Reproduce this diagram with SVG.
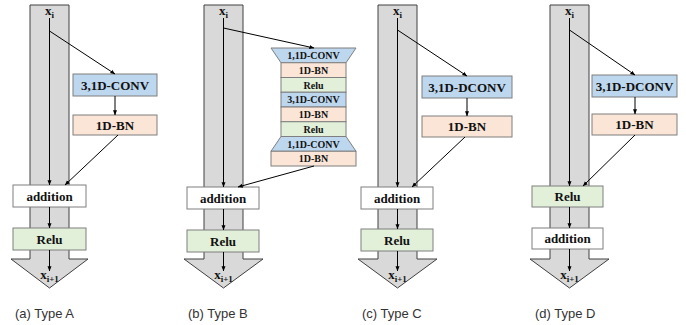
<svg xmlns="http://www.w3.org/2000/svg" width="686" height="325" viewBox="0 0 686 325">
<defs>
<marker id="ah" viewBox="0 0 8 8" refX="7.5" refY="4" markerWidth="5" markerHeight="5" orient="auto" markerUnits="userSpaceOnUse">
<path d="M0,0.8 L8,4 L0,7.2 Z" fill="#000"/>
</marker>
<style>
.shaft{fill:#d9d9d9;stroke:#404040;stroke-width:1}
.box{stroke:#7f7f7f;stroke-width:1}
.blue{fill:#bdd7ee}
.peach{fill:#fbe5d6}
.green{fill:#e2f0d9}
.white{fill:#ffffff}
.t{font-family:"Liberation Serif","Times New Roman",serif;font-weight:bold;font-size:13px;text-anchor:middle;fill:#111}
.ts{font-family:"Liberation Serif","Times New Roman",serif;font-weight:bold;font-size:10px;text-anchor:middle;fill:#111}
.x{font-family:"Liberation Serif","Times New Roman",serif;font-weight:bold;font-size:13px;text-anchor:middle;fill:#111}
.sub{font-size:9px}
.cap{font-family:"Liberation Sans",Arial,sans-serif;font-size:13px;fill:#333}
.c{stroke:#000;stroke-width:1;fill:none;marker-end:url(#ah)}
</style>
</defs>

<!-- Panel A -->
<g id="trunkA">
<path class="shaft" d="M30,5 L69,5 L69,259 L88,259 L49.5,288 L11,259 L30,259 Z"/>
<text class="x" x="49.5" y="15">x<tspan class="sub" dy="3">i</tspan></text>
<text class="x" x="49.5" y="279">x<tspan class="sub" dy="3">i+1</tspan></text>
</g>
<g id="convA"><rect class="box blue" x="73" y="74" width="84" height="22"/><text class="t" x="115" y="89.5">3,1D-CONV</text></g>
<g id="bnA"><rect class="box peach" x="73" y="115" width="84" height="20"/><text class="t" x="115" y="129.5">1D-BN</text></g>
<g id="addA"><rect class="box white" x="13" y="185" width="73" height="22"/><text class="t" x="49.5" y="200.5">addition</text></g>
<g id="reluA"><rect class="box green" x="13" y="228" width="73" height="22"/><text class="t" x="49.5" y="243.5">Relu</text></g>

<!-- Panel B -->
<g id="trunkB">
<path class="shaft" d="M204,5 L243,5 L243,259 L263,259 L223.5,288 L184,259 L204,259 Z"/>
<text class="x" x="223.5" y="15">x<tspan class="sub" dy="3">i</tspan></text>
<text class="x" x="223.5" y="279">x<tspan class="sub" dy="3">i+1</tspan></text>
</g>
<g id="stackB">
<path class="box blue" d="M271,48 L356,48 L346,62.75 L281,62.75 Z"/><text class="ts" x="313.5" y="59">1,1D-CONV</text>
<rect class="box peach" x="281" y="62.75" width="65" height="14.75"/><text class="ts" x="313.5" y="73.8">1D-BN</text>
<rect class="box green" x="281" y="77.5" width="65" height="14.75"/><text class="ts" x="313.5" y="88.5">Relu</text>
<rect class="box blue" x="281" y="92.25" width="65" height="14.75"/><text class="ts" x="313.5" y="103.3">3,1D-CONV</text>
<rect class="box peach" x="281" y="107" width="65" height="14.75"/><text class="ts" x="313.5" y="118">1D-BN</text>
<rect class="box green" x="281" y="121.75" width="65" height="14.75"/><text class="ts" x="313.5" y="132.8">Relu</text>
<path class="box blue" d="M281,136.5 L346,136.5 L356,151.25 L271,151.25 Z"/><text class="ts" x="313.5" y="147.5">1,1D-CONV</text>
<rect class="box peach" x="271" y="151.25" width="85" height="14.75"/><text class="ts" x="313.5" y="162.3">1D-BN</text>
</g>
<g id="addB"><rect class="box white" x="187" y="187" width="72" height="22"/><text class="t" x="223" y="202.5">addition</text></g>
<g id="reluB"><rect class="box green" x="187" y="230" width="72" height="22"/><text class="t" x="223" y="245.5">Relu</text></g>

<!-- Panel C -->
<g id="trunkC">
<path class="shaft" d="M378,5 L417,5 L417,259 L437,259 L397.5,288 L358,259 L378,259 Z"/>
<text class="x" x="397.5" y="15">x<tspan class="sub" dy="3">i</tspan></text>
<text class="x" x="397.5" y="279">x<tspan class="sub" dy="3">i+1</tspan></text>
</g>
<g id="convC"><rect class="box blue" x="422" y="76" width="90" height="22"/><text class="t" x="467" y="91.5">3,1D-DCONV</text></g>
<g id="bnC"><rect class="box peach" x="422" y="116" width="90" height="21"/><text class="t" x="467" y="131">1D-BN</text></g>
<g id="addC"><rect class="box white" x="361" y="187" width="72" height="22"/><text class="t" x="397" y="202.5">addition</text></g>
<g id="reluC"><rect class="box green" x="361" y="229" width="72" height="22"/><text class="t" x="397" y="244.5">Relu</text></g>

<!-- Panel D -->
<g id="trunkD">
<path class="shaft" d="M550,5 L589,5 L589,259 L609,259 L569.5,288 L530,259 L550,259 Z"/>
<text class="x" x="569.5" y="15">x<tspan class="sub" dy="3">i</tspan></text>
<text class="x" x="569.5" y="279">x<tspan class="sub" dy="3">i+1</tspan></text>
</g>
<g id="convD"><rect class="box blue" x="592" y="75" width="85" height="22"/><text class="t" x="634.5" y="90.5">3,1D-DCONV</text></g>
<g id="bnD"><rect class="box peach" x="592" y="114" width="85" height="21"/><text class="t" x="634.5" y="129">1D-BN</text></g>
<g id="reluD"><rect class="box green" x="532" y="186" width="71" height="21"/><text class="t" x="567.5" y="201">Relu</text></g>
<g id="addD"><rect class="box white" x="532" y="228" width="71" height="21"/><text class="t" x="567.5" y="243">addition</text></g>

<!-- Connectors -->
<g id="connectors">
<line class="c" x1="49.5" y1="18" x2="49.5" y2="185"/>
<line class="c" x1="49.5" y1="31" x2="115" y2="74"/>
<line class="c" x1="115" y1="96" x2="115" y2="115"/>
<line class="c" x1="118" y1="135" x2="65" y2="185"/>
<line class="c" x1="49.5" y1="207" x2="49.5" y2="228"/>
<line class="c" x1="49.5" y1="250" x2="49.5" y2="271"/>

<line class="c" x1="223.5" y1="18" x2="223.5" y2="187"/>
<line class="c" x1="223.5" y1="28" x2="314" y2="48"/>
<line class="c" x1="314" y1="166" x2="238" y2="187"/>
<line class="c" x1="223.5" y1="209" x2="223.5" y2="230"/>
<line class="c" x1="223.5" y1="252" x2="223.5" y2="271"/>

<line class="c" x1="397.5" y1="18" x2="397.5" y2="187"/>
<line class="c" x1="397.5" y1="30" x2="467" y2="76"/>
<line class="c" x1="467" y1="98" x2="467" y2="116"/>
<line class="c" x1="465" y1="137" x2="412" y2="187"/>
<line class="c" x1="397.5" y1="209" x2="397.5" y2="229"/>
<line class="c" x1="397.5" y1="251" x2="397.5" y2="271"/>

<line class="c" x1="569.5" y1="18" x2="569.5" y2="186"/>
<line class="c" x1="569.5" y1="30" x2="635" y2="75"/>
<line class="c" x1="635" y1="97" x2="635" y2="114"/>
<line class="c" x1="635" y1="135" x2="583" y2="186"/>
<line class="c" x1="569.5" y1="207" x2="569.5" y2="228"/>
<line class="c" x1="569.5" y1="249" x2="569.5" y2="271"/>
</g>

<!-- Captions -->
<text class="cap" x="15" y="318">(a) Type A</text>
<text class="cap" x="188" y="318">(b) Type B</text>
<text class="cap" x="362" y="318">(c) Type C</text>
<text class="cap" x="535" y="318">(d) Type D</text>
</svg>
